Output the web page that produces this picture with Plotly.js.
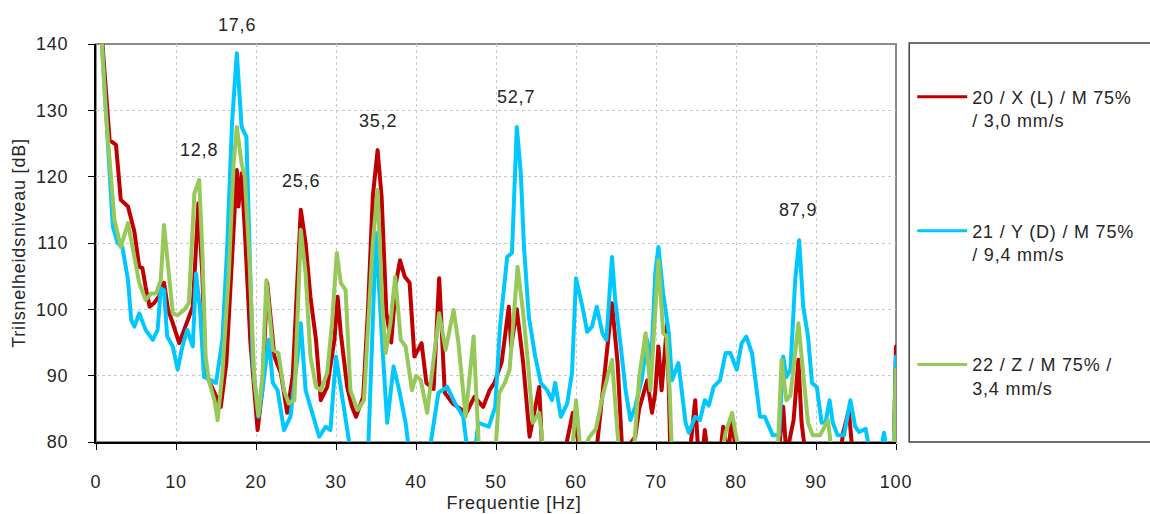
<!DOCTYPE html>
<html>
<head>
<meta charset="utf-8">
<script src="https://cdn.plot.ly/plotly-3.0.1.min.js"></script>
<style>
  html, body { margin: 0; padding: 0; background: #ffffff; }
  #chart { width: 1150px; height: 514px; }
  svg text { letter-spacing: 0.8px; }
  .scatterlayer path.js-line { stroke-linejoin: round !important; stroke-linecap: round; }
</style>
</head>
<body>
<div id="chart"></div>
<script>
// ---------- data ----------
const seriesNames = [
  "20 / X (L) / M 75%<br>/ 3,0 mm/s",
  "21 / Y (D) / M 75%<br>/ 9,4 mm/s",
  "22 / Z / M 75% /<br>3,4 mm/s"
];

const freqRed = [0.5,0.9,1.7,2.5,3.1,4.0,4.8,5.4,5.8,6.2,6.7,7.3,7.9,8.5,9.0,9.6,10.4,11.2,12.1,12.8,13.3,13.7,15.0,15.6,16.3,16.9,17.6,17.8,18.2,18.6,19.3,20.2,20.8,21.4,22.3,23.1,23.9,24.6,25.6,26.2,26.8,27.5,28.1,28.9,29.8,30.2,30.6,31.4,32.0,32.5,33.4,34.0,34.6,35.2,35.7,36.3,36.9,37.5,38.0,38.6,39.2,39.8,40.7,41.3,42.2,42.9,43.6,44.6,46.3,47.3,48.4,49.2,49.8,50.7,51.6,51.9,52.6,53.4,54.2,55.4,55.8,57.0,58.5,59.6,60.1,60.6,62.5,63.3,64.5,65.2,65.8,67.4,67.9,68.9,69.5,69.9,70.3,70.7,71.4,71.8,74.2,74.9,75.3,75.8,76.1,76.5,78.0,78.4,79.0,79.5,80.0,85.3,85.9,86.3,87.2,87.8,88.2,88.7,93.0,93.4,94.1,94.6,99.7,100.0];
const levelRed = [145,138,125.5,124.8,116.5,115.5,111.7,106.4,106.2,103.4,100.4,101,102,104,100,97.9,94.9,97.5,100.4,116,105,90.4,86.8,85.3,92,105,121,115.5,120.5,112,95,81.8,88,104,92.9,90.4,84.4,90,115,110,101.9,95.4,86.3,88.3,95.4,101.9,96.4,88.3,85.3,83.8,86.8,100,117,124,117,99.4,95,104,107.4,104.9,104,92.9,94.9,88.9,88,104.7,87.4,85.8,84.4,86.8,85.3,87.8,88.9,92,100.4,94.4,100,91.9,80.8,88.3,78,78,78,84.4,80.8,78,78,86.8,100.9,91.9,78,80.8,85,89.3,84.4,87.4,94.4,87.8,97.9,78,78,86.3,78,78,81.8,78,78,82.3,78,83.8,78,78,85.3,78,83.3,92.4,82.9,78,78,81.4,84.8,78,78,94.4];

const freqBlue = [0.5,1.2,2.1,2.7,3.3,4.0,4.4,4.8,5.4,6.2,7.1,7.7,8.1,8.5,8.9,9.6,10.2,10.8,11.4,12.1,12.5,13.0,13.5,14.4,15.0,15.8,16.4,17.0,17.6,18.2,18.8,19.6,20.3,20.8,21.6,22.1,22.7,23.5,24.3,25.2,25.6,26.2,27.1,27.9,28.7,29.3,30.0,30.6,31.4,31.9,34.0,35.0,35.8,36.4,37.2,37.9,38.7,39.2,41.6,42.0,42.8,43.9,44.9,45.9,46.5,47.3,47.8,49.1,49.9,50.5,51.4,52.0,52.6,53.1,53.5,54.1,54.9,55.6,56.4,57.0,57.4,58.1,58.9,59.5,60.0,60.8,61.4,62.0,62.6,63.3,63.8,64.5,64.9,65.5,66.2,66.8,67.4,68.2,68.9,69.4,69.9,70.3,70.9,71.6,72.0,72.8,73.7,74.1,74.9,75.5,76.1,76.6,77.2,78.0,78.7,79.3,80.1,80.7,81.3,82.0,82.6,83.0,83.6,84.1,84.6,85.4,85.9,86.3,86.8,87.4,87.9,88.4,89.0,89.5,90.1,90.7,91.2,91.7,92.1,92.7,93.5,94.3,94.9,95.4,96.2,96.8,98.0,98.5,98.9,99.7,100.0];
const levelBlue = [145,130,112.5,110,109.4,104.4,98.4,97.4,99.4,96.9,95.4,96.9,103.2,102.9,95.9,94.4,90.9,94.4,96.9,94.4,105.4,100,89.8,89.3,88.9,95.4,109.4,128,138.6,127.5,126,91.9,83.8,87.8,95.4,88.9,87.8,81.8,83.8,92.9,97.9,87.8,83.8,80.8,82.3,81.8,92.9,87.8,81.4,78,78,111.5,94.4,82.9,91.4,87.8,82.9,78,78,80.9,87.4,88.3,85.8,83.8,78,78,82.9,82.3,85.3,97.4,107.9,108.5,127.5,120.5,109.4,98.9,92.9,88.9,87.8,86.3,88.9,83.8,85.8,90.4,104.7,100.4,96.6,97.4,100.4,96.4,95.4,107.9,101.4,95.4,87.8,83.3,85.3,89.3,95.4,92,105.4,109.4,102.4,96.4,89.3,91.9,82.9,81.4,83.8,83.3,86.3,85.5,88.3,89.3,93.4,93.4,90.9,94.9,95.9,93.4,87.8,83.8,83.8,82.3,81,81,92.9,89.8,90.9,104.4,110.4,100.4,95.9,88.9,88.3,82.9,83,86.3,82.9,81,81,86.3,82.3,81.5,82,78,78,81.4,78,78,92.9];

const freqGreen = [0.5,1.2,2.3,3.1,4.0,4.6,5.4,6.2,6.9,7.5,8.1,8.5,8.9,9.6,10.2,11.0,11.6,12.3,12.9,13.3,13.7,14.1,14.8,15.2,15.8,16.6,17.2,17.6,18.2,18.6,19.2,19.8,20.3,20.8,21.3,22.1,22.8,23.5,24.1,24.8,25.6,26.2,26.8,27.5,28.1,28.9,29.5,30.1,30.6,31.2,31.8,32.7,33.5,34.0,34.6,35.2,35.8,36.2,36.8,37.4,38.1,38.7,39.5,40.0,40.6,41.4,42.4,42.9,43.7,44.7,45.3,46.2,47.2,47.6,47.9,49.9,50.4,51.1,51.7,52.7,53.4,54.0,54.6,55.4,56.0,59.5,60.0,60.6,61.7,62.5,63.3,64.5,65.0,65.4,67.2,67.9,68.7,69.3,70.3,70.9,71.3,71.7,72.0,78.2,78.7,79.5,80.0,80.5,85.2,85.7,86.3,86.8,87.8,88.4,89.0,89.6,90.5,91.5,92.0,99.7,100.0];
const levelGreen = [145,130,113.5,109.4,113,109.4,104,101.4,102.4,102.4,104.4,112.7,107.9,99.4,99.1,99.9,100.9,117.5,119.5,108.5,92.9,89.3,86.3,83.3,90.4,105.4,122,127.5,122,120,107,89.3,84,90,104.4,93.9,93.4,87.8,85.8,86.3,112,105.4,92.9,88.3,87.8,90.4,97.9,108.5,104,102.9,87.8,84.8,86.3,97,110,118,100.4,93.4,97.9,104.9,95.4,94.4,87.8,90,89.3,84.4,93.9,99.4,93.9,99.9,95,83.8,95.9,85,78,78,87.4,88.9,90.9,106.4,99.4,91.9,82.9,84.4,78,78,86.3,78,80.8,82,86.8,92.4,83,78,78,89.8,96.4,87.8,107.4,96.4,96,88,78,78,81.4,84.4,81,78,78,92.4,86.3,87,97.9,90.4,82.9,81,81,83.3,78,78,90.9];

const peakLabels = ["17,6", "12,8", "25,6", "35,2", "52,7", "87,9"];
const peakLabelFreq = [17.6, 12.85, 25.6, 35.2, 52.55, 87.8];
const peakLabelLevel = [142.9, 124.0, 119.3, 128.4, 132.0, 115.0];

const xTicks = [0,10,20,30,40,50,60,70,80,90,100];
const yTicks = [80,90,100,110,120,130,140];
const xRange = [0, 100];
const yRange = [80, 140];

// ---------- styling ----------
const FONT = "Liberation Sans, Arial, sans-serif";
const FS = 18;
const TXT = "#262626";
const colors = ["#C00000", "#00C8FF", "#96C85A"];

const traces = [
  {x: freqRed, y: levelRed},
  {x: freqBlue, y: levelBlue},
  {x: freqGreen, y: levelGreen}
].map((d, i) => ({
  type: "scatter",
  mode: "lines",
  x: d.x,
  y: d.y,
  name: seriesNames[i],
  legendgroup: "g" + i,
  line: {color: colors[i], width: 4, shape: "linear"},
  hoverinfo: "x+y+name"
}));

// peak labels: x on the frequency axis, y on the paper so that labels above the
// top of the value axis (17,6) are still drawn
const annotations = peakLabels.map((t, i) => ({
  text: t,
  x: peakLabelFreq[i],
  y: (peakLabelLevel[i] - yRange[0]) / (yRange[1] - yRange[0]),
  xref: "x",
  yref: "paper",
  showarrow: false,
  font: {family: FONT, size: FS, color: TXT},
  xanchor: "center",
  yanchor: "middle"
}));

const layout = {
  width: 1150,
  height: 514,
  margin: {l: 96, r: 253, t: 44, b: 72, pad: 0},
  paper_bgcolor: "#ffffff",
  plot_bgcolor: "#ffffff",
  font: {family: FONT, size: FS, color: TXT},
  showlegend: true,
  legend: {
    x: 1.019,
    xanchor: "left",
    y: 0.913,
    yanchor: "top",
    traceorder: "grouped",
    tracegroupgap: 84,
    valign: "top",
    bgcolor: "rgba(0,0,0,0)",
    borderwidth: 0,
    font: {family: FONT, size: FS, color: TXT},
    itemwidth: 50
  },
  xaxis: {
    range: xRange,
    tickvals: xTicks,
    ticktext: xTicks.map(String),
    ticks: "outside",
    ticklen: 6,
    tickcolor: "#000000",
    tickwidth: 1,
    ticklabelstandoff: 16,
    showline: true,
    linecolor: "#000000",
    linewidth: 2,
    showgrid: true,
    gridcolor: "#c8c8c8",
    gridwidth: 1,
    griddash: "3px,3px",
    zeroline: false,
    tickfont: {family: FONT, size: FS, color: TXT},
    title: {text: "Frequentie [Hz]", font: {family: FONT, size: FS, color: TXT}, standoff: 6},
    fixedrange: true
  },
  yaxis: {
    range: yRange,
    tickvals: yTicks,
    ticktext: yTicks.map(String),
    ticks: "outside",
    ticklen: 6,
    tickcolor: "#000000",
    tickwidth: 1,
    ticklabelstandoff: 16,
    showline: true,
    linecolor: "#000000",
    linewidth: 2,
    showgrid: true,
    gridcolor: "#c8c8c8",
    gridwidth: 1,
    griddash: "3px,3px",
    zeroline: false,
    tickfont: {family: FONT, size: FS, color: TXT},
    title: {text: "Trilsnelheidsniveau [dB]", font: {family: FONT, size: FS, color: TXT}, standoff: 6},
    fixedrange: true
  },
  shapes: [
    {type: "rect", xref: "paper", yref: "paper", x0: 0, x1: 1, y0: 0, y1: 1,
     line: {color: "#8c8c8c", width: 2}, fillcolor: "rgba(0,0,0,0)", layer: "below"},
    {type: "rect", xref: "paper", yref: "paper", x0: 1.0165, x1: 1.33, y0: 0, y1: 1.0025,
     line: {color: "#404040", width: 1.5}, fillcolor: "rgba(0,0,0,0)", layer: "below"}
  ],
  annotations: annotations
};

Plotly.newPlot("chart", traces, layout, {staticPlot: true, displayModeBar: false}).then(function (gd) {
  // longer, slightly thinner legend line samples, as in the original legend
  gd.querySelectorAll(".legend .legendlines path").forEach(function (p) {
    p.setAttribute("d", "M5,0h50");
    p.style.strokeWidth = "3px";
  });
  // the original x-axis title sits a little right of the plot centre
  const xt = gd.querySelector(".g-xtitle text");
  if (xt) {
    xt.setAttribute("x", String(parseFloat(xt.getAttribute("x")) + 18));
  }
});
</script>
</body>
</html>
